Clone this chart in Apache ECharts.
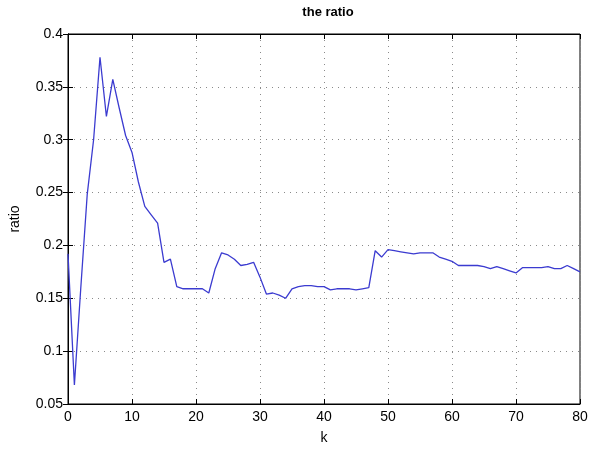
<!DOCTYPE html>
<html>
<head>
<meta charset="utf-8">
<script src="https://cdn.jsdelivr.net/npm/echarts@6/dist/echarts.min.js"></script>
<style>
  html, body { margin: 0; padding: 0; background: #fff; }
  #chart { width: 592px; height: 450px; }
</style>
</head>
<body>
<div id="chart"></div>
<script>
// k = 0..80
const kValues = Array.from({ length: 81 }, (_, i) => i)
const ratio = [
  0.192, 0.068, 0.160, 0.248, 0.300, 0.378, 0.322, 0.357, 0.330, 0.304,
  0.288, 0.260, 0.237, 0.229, 0.221, 0.184, 0.187, 0.161, 0.159, 0.159,
  0.159, 0.159, 0.155, 0.178, 0.193, 0.191, 0.187, 0.181, 0.182, 0.184,
  0.170, 0.154, 0.155, 0.153, 0.150, 0.159, 0.161, 0.162, 0.162, 0.161,
  0.161, 0.158, 0.159, 0.159, 0.159, 0.158, 0.159, 0.160, 0.195, 0.189,
  0.196, 0.195, 0.194, 0.193, 0.192, 0.193, 0.193, 0.193, 0.189, 0.187,
  0.185, 0.181, 0.181, 0.181, 0.181, 0.180, 0.178, 0.180, 0.178, 0.176,
  0.174, 0.179, 0.179, 0.179, 0.179, 0.180, 0.178, 0.178, 0.181, 0.178,
  0.175
]

const font = 'Liberation Sans, Arial, sans-serif'
const chart = echarts.init(document.getElementById('chart'))

const gridLine = { show: true, lineStyle: { color: '#8a8a8a', type: [1, 5], width: 1 } }
const tickIn = { inside: true, length: 5, lineStyle: { color: '#000' } }

chart.setOption({
  animation: false,
  title: {
    text: 'the ratio',
    left: 323, top: 1, textAlign: 'center',
    textStyle: { fontFamily: font, fontSize: 13, fontWeight: 'bold', color: '#000' }
  },
  grid: { left: 66, right: 12, top: 34, bottom: 42, show: true, borderColor: '#000', borderWidth: 1 },
  xAxis: [{
    type: 'value', min: 0, max: 80, interval: 10,
    name: 'k', nameLocation: 'middle', nameGap: 27,
    nameTextStyle: { fontFamily: font, fontSize: 14, color: '#000' },
    axisLine: { show: true, lineStyle: { color: '#000' } },
    axisTick: tickIn,
    axisLabel: { fontFamily: font, fontSize: 14, color: '#000', margin: 6 },
    splitLine: gridLine
  }, {
    type: 'value', min: 0, max: 80, interval: 10, position: 'top',
    axisLine: { show: true, lineStyle: { color: '#000' } },
    axisTick: tickIn, axisLabel: { show: false }, splitLine: { show: false }
  }],
  yAxis: [{
    type: 'value', min: 0.05, max: 0.4, interval: 0.05,
    name: 'ratio', nameLocation: 'middle', nameGap: 46,
    nameTextStyle: { fontFamily: font, fontSize: 14, color: '#000' },
    axisLine: { show: true, lineStyle: { color: '#000' } },
    axisTick: tickIn,
    axisLabel: {
      fontFamily: font, fontSize: 14, color: '#000', margin: 5,
      formatter: v => String(parseFloat(v.toFixed(2)))
    },
    splitLine: gridLine
  }, {
    type: 'value', min: 0.05, max: 0.4, interval: 0.05, position: 'right',
    axisLine: { show: true, lineStyle: { color: '#000' } },
    axisTick: tickIn, axisLabel: { show: false }, splitLine: { show: false }
  }],
  series: [{
    type: 'line',
    data: kValues.map((k, i) => [k, ratio[i]]),
    showSymbol: false,
    lineStyle: { color: '#3b3bd0', width: 1.3 },
    clip: true
  }]
})
</script>
</body>
</html>
